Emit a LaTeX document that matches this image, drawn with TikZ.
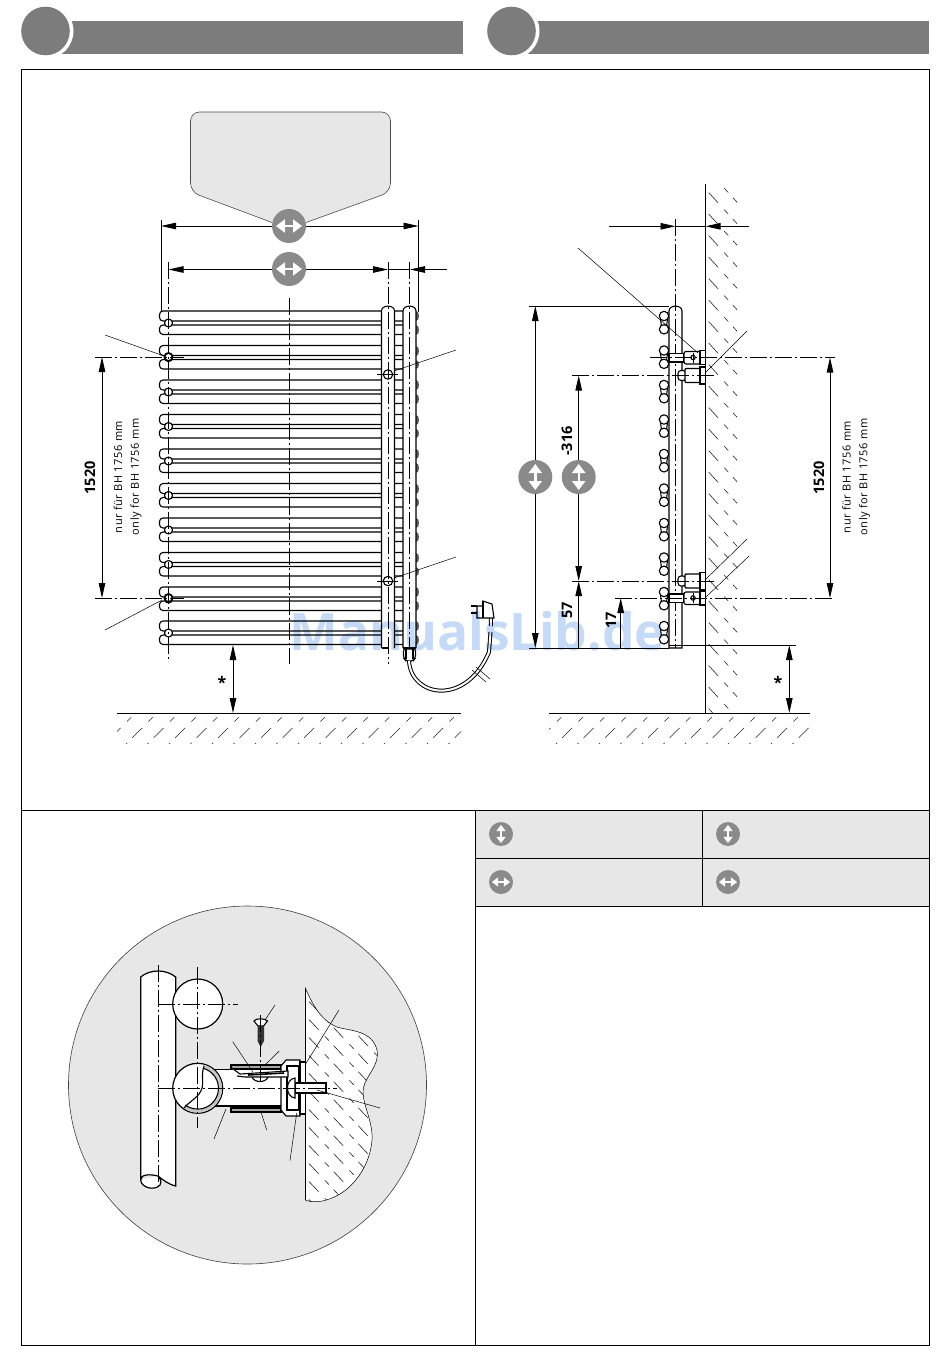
\documentclass[tikz,border=0pt]{standalone}
\usepackage{fontspec}
\setsansfont{Open Sans}
\usepackage{tikz}
\usetikzlibrary{arrows.meta}

\definecolor{headgray}{HTML}{7D7C7C}
\definecolor{badgegray}{HTML}{8A8A8A}
\definecolor{panelgray}{HTML}{E7E7E7}
\definecolor{markblue}{HTML}{C4DAF6}

\tikzset{
  outline/.style={line width=1.1pt, black},
  extline/.style={line width=0.85pt, black},
  thinline/.style={line width=0.5pt, black},
  centerline/.style={line width=0.8pt, black, dash pattern=on 17pt off 3pt on 2pt off 3pt},
  dimline/.style={line width=0.9pt, black, {Triangle[length=15pt,width=6.5pt]}-{Triangle[length=15pt,width=6.5pt]}},
  dimhalf/.style={line width=0.9pt, black, -{Triangle[length=15pt,width=6.5pt]}},
  hatchline/.style={line width=0.6pt, black!85, dash pattern=on 6pt off 7pt on 14pt off 9pt},
  badge/.style={circle, fill=badgegray, inner sep=0pt, minimum size=34pt},
  smallbadge/.style={circle, fill=badgegray, inner sep=0pt, minimum size=24pt},
  dimtext/.style={rotate=90, font=\sffamily\bfseries\fontsize{14.5}{15}\selectfont},
  notetext/.style={rotate=90, font=\sffamily\addfontfeatures{LetterSpace=5}\fontsize{11}{11}\selectfont},
  startext/.style={font=\sffamily\bfseries\fontsize{16}{16}\selectfont}
}

\begin{document}
\begin{tikzpicture}[x=1pt, y=-1pt]
\useasboundingbox (0,0) rectangle (950,1367);

% Header bars with their discs
\foreach \cx/\xr in {45.5/463, 511.5/929} {
  \fill[headgray] (\cx+5,21) rectangle (\xr,54.5);
  \fill[white] (\cx,31) circle[radius=28];
  \fill[headgray] (\cx,31) circle[radius=24.3];
}

% Panels
\fill[panelgray] (475,810) rectangle (929,906);
\draw[line width=1pt] (21.5,69.5) rectangle (929,1345);
\draw[line width=1pt] (21.5,810) -- (929,810);
\draw[line width=1pt] (475,810) -- (475,1345);
\draw[line width=1pt] (475,858) -- (929,858);
\draw[line width=1pt] (475,906) -- (929,906);
\draw[line width=1pt] (702,810) -- (702,906);

% Label plate above the front view
\draw[line width=0.6pt, black!70, fill=panelgray, rounded corners=9pt]
  (272,222.5) -- (190.5,192) -- (190.5,112) -- (390.5,112) -- (390.5,192) -- (306,222.5);

% Radiator bars, front view
\foreach \t in {311,345.5,380,414.5,449,483.5,518,552.5,587,621} {
  \draw[outline, rounded corners=3.5pt] (403,\t) -- (159.5,\t) -- (159.5,\t+10) -- (403,\t+10);
  \draw[outline, rounded corners=3.5pt] (403,\t+14) -- (159.5,\t+14) -- (159.5,\t+23.5) -- (403,\t+23.5);
  \fill[black!65] (416,\t) .. controls (420,\t) and (420,\t+10) .. (416,\t+10) -- cycle;
  \fill[black!65] (416,\t+14) .. controls (420,\t+14) and (420,\t+23.5) .. (416,\t+23.5) -- cycle;
  \draw[outline, fill=white] (168.5,\t+12) circle[radius=4];
}

% Vertical tubes, front view
\foreach \a/\b in {381.5/394.5, 403/416} {
  \draw[outline, fill=white] (\a,648) -- (\a,311) .. controls (\a,304.5) and (\b,304.5) .. (\b,311) -- (\b,648);
}
\draw[outline] (381.5,648) -- (388,648);
\draw[outline] (403,648) -- (416,648);

% Fixing points and holes, front view
\foreach \y in {357,598} {
  \draw[line width=1.8pt, fill=white] (168.5,\y) circle[radius=4];
  \draw[extline] (176,\y) -- (184,\y);
}
\foreach \y in {374.5,581} {
  \draw[outline, fill=white] (388,\y) circle[radius=4.7];
  \draw[thinline] (377,\y) -- (398,\y);
}

% Centre lines, front view
\draw[centerline] (168.5,262) -- (168.5,662);
\draw[centerline] (289.5,298) -- (289.5,664);
\draw[centerline] (388,262) -- (388,664);
\draw[centerline] (409.5,262) -- (409.5,648);
\draw[centerline] (95,357) -- (183,357);
\draw[centerline] (95,598) -- (183,598);

% Heater head and cable
\draw[outline, fill=white, rounded corners=2pt] (403.5,649) -- (403.5,658) -- (406,661) -- (413,661) -- (415.5,658) -- (415.5,649) -- cycle;
\draw[outline] (406,649) -- (406,659);
\draw[outline] (413,649) -- (413,659);
\draw[line width=1pt, double=white, double distance=2pt] (409,661) .. controls (411,697) and (466,707) .. (489,652) -- (490.5,632);
\draw[line width=1pt, double=white, double distance=2pt] (490.8,626) -- (491,618);
\draw[thinline] (472,670) -- (486,682);
\draw[thinline] (476,667) -- (490,679);
\draw[outline, fill=white] (483,601) -- (492,604) -- (494,618) -- (477,618) -- (477,606) -- (483,606) -- cycle;
\draw[outline] (471,606) -- (477,606);
\draw[outline] (471,613) -- (477,613);
\draw[outline] (483,601) -- (483,618);

% Floors
\foreach \xa/\xb in {117/461, 549/810} {
  \begin{scope}
    \clip (\xa,714) rectangle (\xb,743.5);
    \foreach \x in {80,101.5,...,830}
      \draw[hatchline] (\x,747) -- ++(36,-36);
  \end{scope}
  \draw[extline] (\xa,713) -- (\xb,713);
}

% Wall, side view
\begin{scope}
  \clip (706,184) rectangle (737,713);
  \foreach \y in {140,161.5,...,720}
    \draw[hatchline] (700,\y) -- ++(40,44);
\end{scope}
\draw[extline] (705.3,184) -- (705.3,713);

% Radiator, side view
\foreach \t in {311,345.5,380,414.5,449,483.5,518,552.5,587,621} {
  \draw[outline] (660.5,\t+8) -- (661.5,\t+15.5);
  \draw[outline] (667.5,\t+8) -- (666.5,\t+15.5);
  \draw[outline, fill=white] (664,\t+5) circle[radius=4.7];
  \draw[outline, fill=white] (664,\t+18.3) circle[radius=4.7];
}
\draw[outline, fill=white] (669,648) -- (669,311) .. controls (669,304.5) and (682,304.5) .. (682,311) -- (682,648) -- cycle;
\draw[extline] (669,645) -- (796,645);
\draw[centerline] (675.5,219) -- (675.5,648);

% Brackets, side view
\foreach \y in {357.5,598} {
  \draw[outline, fill=white] (669,\y-4) rectangle (684,\y+4.5);
  \draw[outline, fill=white, rounded corners=2pt] (684,\y-6) rectangle (702,\y+6.5);
  \draw[outline, fill=white] (700,\y-7) rectangle (705.3,\y+7);
  \draw[outline] (693,\y) circle[radius=2.2];
  \draw[thinline] (693,\y-5) -- (693,\y+5);
}
\foreach \y in {375.5,581} {
  \draw[outline, fill=white, rounded corners=3pt] (686,\y-5) -- (678,\y-5) -- (678,\y+5) -- (686,\y+5) -- cycle;
  \draw[outline, fill=white, rounded corners=1pt] (685,\y-7) rectangle (701,\y+7);
  \draw[outline, fill=white] (700,\y-8.5) rectangle (705.3,\y+8.5);
}
\draw[centerline] (572,375.5) -- (714,375.5);
\draw[centerline] (572,581) -- (714,581);
\draw[centerline] (650,357.5) -- (835,357.5);
\draw[centerline] (615,598) -- (835,598);

% Extension lines
\draw[extline] (161,220) -- (161,311);
\draw[extline] (418.5,220) -- (418.5,312);
\draw[extline] (529,306) -- (669,306);
\draw[extline] (529,648) -- (669,648);

% Dimensions, front view
\coordinate (widthL) at (161,226);
\coordinate (widthR) at (418.5,226);
\coordinate (pitchL) at (168.5,269.5);
\coordinate (pitchR) at (388,269.5);
\coordinate (edgeL) at (410,269.5);
\coordinate (edgeR) at (447,269.5);
\coordinate (fixT) at (102,357);
\coordinate (fixB) at (102,598);
\coordinate (floorT) at (233,645);
\coordinate (floorB) at (233,713);
\draw[dimline] (widthL) -- (widthR);
\draw[dimline] (pitchL) -- (pitchR);
\draw[line width=0.9pt] (pitchR) -- (edgeL);
\draw[dimhalf] (edgeR) -- (edgeL);
\draw[dimline] (fixT) -- (fixB);
\draw[dimline] (floorT) -- (floorB);

% Dimensions, side view
\coordinate (depthL) at (609,226.3);
\coordinate (depthM) at (675.5,226.3);
\coordinate (depthW) at (705.5,226.3);
\coordinate (depthR) at (749,226.3);
\coordinate (heightT) at (535.3,306);
\coordinate (heightB) at (535.3,648);
\coordinate (holeT) at (578.7,375.5);
\coordinate (holeB) at (578.7,581);
\coordinate (holeF) at (578.7,648);
\coordinate (lowT) at (620.7,598);
\coordinate (lowB) at (620.7,648);
\coordinate (fixTr) at (830,357.5);
\coordinate (fixBr) at (830,598);
\coordinate (floorTr) at (789.3,645);
\coordinate (floorBr) at (789.3,713);
\draw[dimhalf] (depthL) -- (depthM);
\draw[line width=0.9pt] (depthM) -- (depthW);
\draw[dimhalf] (depthR) -- (depthW);
\draw[dimline] (heightT) -- (heightB);
\draw[dimline] (holeT) -- (holeB);
\draw[dimhalf] (holeF) -- (holeB);
\draw[dimhalf] (lowB) -- (lowT);
\draw[dimline] (fixTr) -- (fixBr);
\draw[dimline] (floorTr) -- (floorBr);

% Leader lines, upper views
\foreach \xa/\ya/\xb/\yb in {105/335/164/356, 105/630/162/600, 456/350/394/371, 456/557/394/578,
    578/248/698/353, 747/331/706/372, 747/539/706/579, 749/556/706/597}
  \draw[thinline] (\xa,\ya) -- (\xb,\yb);

% Dimension texts
\foreach \name/\x/\y/\txt in {dimA/90/478/1520, dimB/819/478/1520, dimC/567/441/-316, dimD/567/610/57, dimE/611/620/17}
  \node[dimtext] (\name) at (\x,\y) {\txt};
\foreach \name/\x/\y/\txt in {noteA/118/477/nur für BH 1756 mm, noteB/136/477/only for BH 1756 mm,
    noteC/846.5/477/nur für BH 1756 mm, noteD/864.5/477/only for BH 1756 mm}
  \node[notetext] (\name) at (\x,\y) {\txt};
\node[startext] (starA) at (222,682) {*};
\node[startext] (starB) at (778,682) {*};

% Detail disc
\draw[line width=0.6pt, black!75, fill=panelgray] (247.5,1085) circle[radius=179];

% Detail: wall
\def\wallblob{(305.3,988) .. controls (312,1003) and (320,1020) .. (337,1027) .. controls (350,1031) and (372,1030) .. (377,1050)
  .. controls (380,1068) and (362,1078) .. (363,1093) .. controls (364,1108) and (373,1122) .. (372,1140)
  .. controls (370,1165) and (355,1185) .. (340,1194) .. controls (328,1201) and (315,1204) .. (305.3,1200) -- cycle}
\fill[white] \wallblob;
\begin{scope}
  \clip \wallblob;
  \foreach \y in {920,938,...,1210}
    \draw[hatchline] (300,\y) -- ++(85,90);
\end{scope}
\draw[thinline] \wallblob;
\draw[line width=1.1pt] (305.3,988) -- (305.3,1200);

% Detail: vertical tube
\draw[line width=1.2pt, fill=white] (140.7,1180) -- (140.7,977) .. controls (150,969) and (166,969) .. (175.7,977) -- (175.7,1186)
  .. controls (168,1184) and (163,1180) .. (158,1176) .. controls (150,1174) and (140.7,1174) .. (140.7,1180)
  .. controls (141,1188) and (155,1191) .. (160,1185) .. controls (162,1182) and (160,1178) .. (158,1176);
\draw[centerline] (158.3,965) -- (158.3,1190);

% Detail: sleeve and bell
\draw[line width=1.2pt, fill=white] (213,1069.3) -- (283,1069.3) -- (283,1106) -- (213,1106) -- cycle;
\foreach \ya/\yb in {1065/1068.5, 1108/1112}
  \draw[outline, fill=black!35] (231,\ya) rectangle (281,\yb);
\draw[outline, fill=white] (281,1066) -- (286,1060) -- (300,1060) -- (300,1116) -- (286,1116) -- (281,1110) -- cycle;
\draw[outline, fill=white] (287,1066) rectangle (299,1110);
\draw[line width=1.8pt] (300,1068) -- (300,1108);
\draw[outline, fill=white] (300,1062) rectangle (305.3,1114);
\draw[outline, fill=white] (295,1083) -- (326,1083) -- (326,1093) -- (295,1093) -- cycle;
\draw[outline, fill=white] (295,1078) .. controls (285,1079) and (285,1097) .. (295,1098) -- cycle;
\draw[outline, fill=white] (232,1068) -- (240,1074) -- (288,1071) -- (288,1077) -- (245,1077) -- (237,1076);
\draw[line width=1.6pt] (248,1075) -- (284,1073);
\draw[outline] (252,1077) .. controls (254,1083) and (266,1083) .. (268,1077);

% Detail: upper and lower bar sections
\draw[line width=1.2pt, fill=white] (197.7,1004) circle[radius=25];
\draw[line width=1.2pt, fill=white] (197.7,1088.3) circle[radius=25];
\begin{scope}
  \clip (204,1060) -- (230,1060) -- (230,1118) -- (178,1118) -- (186,1104) -- (200,1090) -- cycle;
  \draw[line width=3pt, black!22] (197.7,1088.3) circle[radius=22.8];
  \draw[outline] (197.7,1088.3) circle[radius=20.8];
\end{scope}
\draw[outline] (204,1066) .. controls (200,1078) and (206,1085) .. (199,1094) .. controls (194,1100) and (188,1103) .. (184,1108);
\draw[centerline] (197.7,967) -- (197.7,1128);
\draw[centerline] (158,1004) -- (238,1004);
\draw[centerline] (158,1088.3) -- (337,1088.3);

% Detail: wood screw
\draw[outline, fill=white] (254,1021) .. controls (256,1018) and (265,1018) .. (267.5,1021) -- (263.5,1026) -- (258,1026) -- cycle;
\fill[black!80] (257.5,1026) -- (264,1026) -- (264,1041) -- (260.7,1047) -- (257.5,1041) -- cycle;
\draw[centerline] (260.7,1015) -- (260.7,1083);

% Leader lines, detail
\foreach \xa/\ya/\xb/\yb in {275/1005/265/1020, 232.7/1041.7/252.7/1071.7, 279.3/1051/265/1065, 339/1010/305/1065,
    380/1108/317/1090, 290/1160.7/296.7/1113, 214/1139/226/1109, 266.7/1130/261/1112}
  \draw[thinline] (\xa,\ya) -- (\xb,\yb);

% Badges with horizontal arrows
\foreach \name/\x/\y/\style/\s in {badgeA/289/226/badge/1, badgeB/289/269/badge/1, badgeC/501/882/smallbadge/0.7, badgeD/728/882/smallbadge/0.7} {
  \node[\style] (\name) at (\x,\y) {};
  \draw[white, line width=\s*2.4pt, {Triangle[length=9pt,width=13pt,scale=\s]}-{Triangle[length=9pt,width=13pt,scale=\s]}]
    ([xshift=-\s*13pt]\name.center) -- ([xshift=\s*13pt]\name.center);
}

% Badges with vertical arrows
\foreach \name/\x/\y/\style/\s in {badgeE/535.3/477/badge/1, badgeF/578.7/477/badge/1, badgeG/501/834/smallbadge/0.7, badgeH/728/834/smallbadge/0.7} {
  \node[\style] (\name) at (\x,\y) {};
  \draw[white, line width=\s*2.4pt, {Triangle[length=9pt,width=13pt,scale=\s]}-{Triangle[length=9pt,width=13pt,scale=\s]}]
    ([yshift=-\s*13pt]\name.center) -- ([yshift=\s*13pt]\name.center);
}

% Watermark
\begin{scope}[blend mode=multiply]
\node[text=markblue, font=\sffamily\bfseries\fontsize{51.6}{52}\selectfont, inner sep=0pt] (watermark) at (477.5,631) {ManualsLib.de};
\end{scope}

\end{tikzpicture}
\end{document}
